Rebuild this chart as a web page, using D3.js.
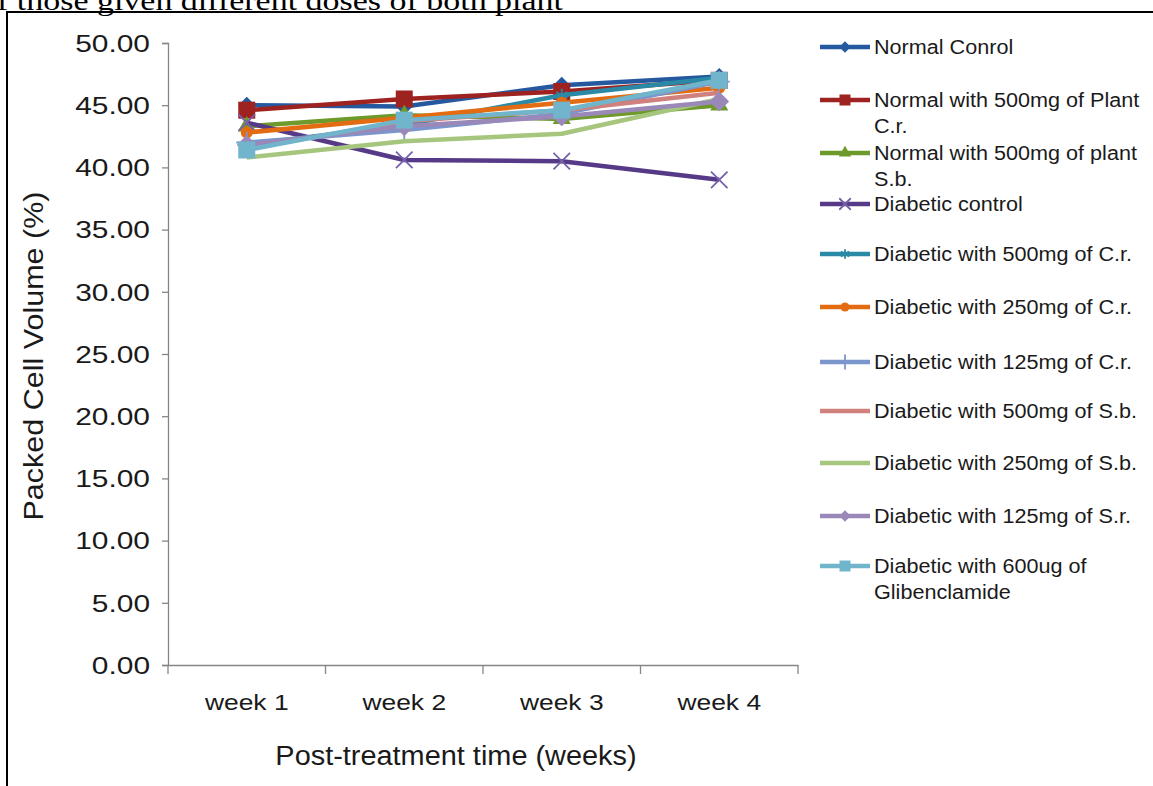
<!DOCTYPE html>
<html><head><meta charset="utf-8">
<script src="https://cdn.jsdelivr.net/npm/d3@7"></script>
<style>
html,body{margin:0;padding:0;background:#fff;overflow:hidden}
svg{display:block}
text{font-family:"Liberation Sans",Arial,sans-serif;fill:#1a1a1a}
</style></head><body>
<svg id="c" width="1153" height="786"></svg>
<script>
const weeks = ["week 1","week 2","week 3","week 4"];
const seriesNames = [
  "Normal Conrol",
  "Normal with 500mg of Plant C.r.",
  "Normal with 500mg of plant S.b.",
  "Diabetic control",
  "Diabetic with 500mg of C.r.",
  "Diabetic with 250mg of C.r.",
  "Diabetic with 125mg of C.r.",
  "Diabetic with 500mg of S.b.",
  "Diabetic with 250mg of S.b.",
  "Diabetic with 125mg of S.r.",
  "Diabetic with 600ug of Glibenclamide"
];
const legendLines = [
  ["Normal Conrol"],
  ["Normal with 500mg of Plant","C.r."],
  ["Normal with 500mg of plant","S.b."],
  ["Diabetic control"],
  ["Diabetic with 500mg of C.r."],
  ["Diabetic with 250mg of C.r."],
  ["Diabetic with 125mg of C.r."],
  ["Diabetic with 500mg of S.b."],
  ["Diabetic with 250mg of S.b."],
  ["Diabetic with 125mg of S.r."],
  ["Diabetic with 600ug of","Glibenclamide"]
];
const normalControl   = [45.0, 44.9, 46.6, 47.3];
const normal500Cr     = [44.6, 45.5, 46.1, 47.0];
const normal500Sb     = [43.3, 44.2, 43.9, 45.0];
const diabeticControl = [43.6, 40.6, 40.5, 39.0];
const diab500Cr       = [41.8, 43.4, 45.8, 47.2];
const diab250Cr       = [42.8, 44.0, 45.2, 46.4];
const diab125Cr       = [42.0, 43.0, 44.3, 46.9];
const diab500Sb       = [41.5, 43.7, 44.6, 46.0];
const diab250Sb       = [40.8, 42.1, 42.7, 45.5];
const diab125Sr       = [41.8, 43.3, 44.1, 45.3];
const diabGlib        = [41.4, 43.8, 44.6, 47.0];
const yTicks = [0,5,10,15,20,25,30,35,40,45,50];

const allValues = [normalControl, normal500Cr, normal500Sb, diabeticControl, diab500Cr,
  diab250Cr, diab125Cr, diab500Sb, diab250Sb, diab125Sr, diabGlib];
const colors = ["#24599F","#9E2320","#6E9A2B","#573A87","#2A8AA6","#E36C12",
  "#7A96CC","#D0807D","#A6C67E","#9A88B8","#70B5CB"];
const markerColors = ["#24599F","#9E2320","#6E9A2B","#7662AA","#2A8AA6","#E36C12",
  "#7A96CC","#D0807D","#A6C67E","#9A88B8","#70B5CB"];
const markers = ["diamond","square","triangle","times","asterisk","circle","plus",null,null,"diamond","square"];

const svg = d3.select("#c");

function stretch(sel, k){
  sel.each(function(){
    const L = this.getComputedTextLength();
    d3.select(this).attr("textLength", L*k).attr("lengthAdjust","spacingAndGlyphs");
  });
}

// cropped page caption & frame
const cap = svg.append("text").attr("x",-3).attr("y",10)
  .style("font-family","'Liberation Serif','Times New Roman',serif")
  .style("font-size","27px").style("fill","#000")
  .text("f those given different doses of both plant");
cap.attr("textLength",566).attr("lengthAdjust","spacingAndGlyphs");
svg.append("rect").attr("x",7).attr("y",12).attr("width",1170).attr("height",800)
  .attr("fill","none").attr("stroke","#000").attr("stroke-width",2);

const pL=168, pR=798, pT=43, pB=665;
const x = d3.scaleBand().domain(weeks).range([pL,pR]);
const y = d3.scaleLinear().domain([0,50]).range([pB,pT]);

// y axis
const yAxis = svg.append("g").attr("transform",`translate(${pL},0)`)
  .call(d3.axisLeft(y).tickValues(yTicks).tickFormat(d3.format(".2f")).tickSize(6).tickPadding(12));
yAxis.select(".domain").attr("stroke","#868686").attr("stroke-width",1.3);
yAxis.selectAll(".tick line").attr("stroke","#868686").attr("stroke-width",1.3);
yAxis.selectAll(".tick text").style("font-size","23px").style("fill","#1a1a1a").attr("dy","0.36em");
stretch(yAxis.selectAll(".tick text"), 1.3);

// x axis
const xAxis = svg.append("g").attr("transform",`translate(0,${pB})`)
  .call(d3.axisBottom(x).tickSize(0).tickPadding(29));
xAxis.select(".domain").attr("stroke","#868686").attr("stroke-width",1.3);
xAxis.selectAll(".tick text").style("font-size","22px").style("fill","#1a1a1a");
stretch(xAxis.selectAll(".tick text"), 1.2);
const bounds = [...weeks.map(w=>x(w)), pR];
xAxis.selectAll(".xb").data(bounds).enter().append("line")
  .attr("x1",d=>d).attr("x2",d=>d).attr("y1",0).attr("y2",9)
  .attr("stroke","#868686").attr("stroke-width",1.3);

// titles
const xt = svg.append("text").attr("x",456).attr("y",765).attr("text-anchor","middle")
  .style("font-size","27px").text("Post-treatment time (weeks)");
stretch(xt, 1.07);
const yt = svg.append("text").attr("transform",`translate(43,356) rotate(-90)`)
  .attr("text-anchor","middle").style("font-size","27px").text("Packed Cell Volume (%)");
stretch(yt, 1.13);

function drawMarker(g, type, cx, cy, s, color){
  if(!type) return;
  if(type==="diamond"){
    g.append("rect").attr("x",cx-s/2).attr("y",cy-s/2).attr("width",s).attr("height",s)
     .attr("transform",`rotate(45,${cx},${cy})`).attr("fill",color);
  } else if(type==="square"){
    g.append("rect").attr("x",cx-s/2).attr("y",cy-s/2).attr("width",s).attr("height",s).attr("fill",color);
  } else if(type==="triangle"){
    g.append("path").attr("d",d3.symbol(d3.symbolTriangle, s*s*0.55)()).attr("transform",`translate(${cx},${cy})`).attr("fill",color);
  } else if(type==="circle"){
    g.append("circle").attr("cx",cx).attr("cy",cy).attr("r",s/2).attr("fill",color);
  } else {
    const t = type==="times"?d3.symbolTimes: type==="plus"?d3.symbolPlus:d3.symbolAsterisk;
    g.append("path").attr("d",d3.symbol(t, s*s*0.45)()).attr("transform",`translate(${cx},${cy})`)
     .attr("fill","none").attr("stroke",color).attr("stroke-width",1.8);
  }
}
const markerSize = {diamond:12, square:17, triangle:16, times:20, asterisk:16, circle:12, plus:18};

// lines
const line = d3.line().x((d,i)=>x(weeks[i])+x.bandwidth()/2).y(d=>y(d));
allValues.forEach((vals,si)=>{
  const g = svg.append("g");
  g.append("path").datum(vals).attr("d",line).attr("fill","none")
   .attr("stroke",colors[si]).attr("stroke-width",4.5).attr("stroke-linejoin","round");
  vals.forEach((v,i)=>{
    const mk = markers[si];
    let s = markerSize[mk];
    if(si===9) s=14;
    drawMarker(g, mk, x(weeks[i])+x.bandwidth()/2, y(v), s, markerColors[si]);
  });
});

// legend
const legendY = [47,100,153,204,254,307,362,411,463,516,566];
const lg = svg.append("g");
legendLines.forEach((lines,si)=>{
  const cy = legendY[si];
  lg.append("line").attr("x1",820).attr("x2",870).attr("y1",cy).attr("y2",cy)
    .attr("stroke",colors[si]).attr("stroke-width",4.5);
  const lm = {diamond:8, square:11, triangle:11, times:14, asterisk:12, circle:9, plus:13};
  drawMarker(lg, markers[si], 845, cy, lm[markers[si]], markerColors[si]);
  lines.forEach((t,li)=>{
    const tx = lg.append("text").attr("x",874).attr("y",cy+7+li*26).style("font-size","20px").text(t);
    stretch(tx, 1.08);
  });
});
</script>
</body></html>
